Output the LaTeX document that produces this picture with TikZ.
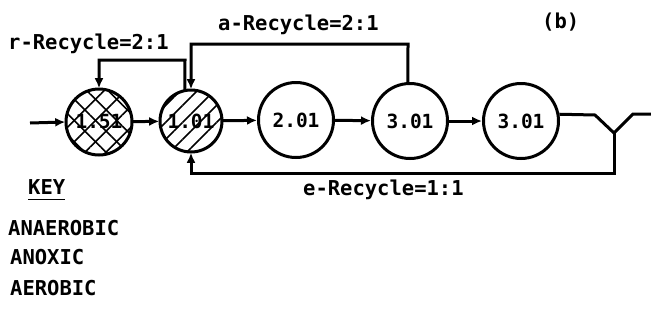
\documentclass[tikz,border=0pt]{standalone}
\usepackage{fontspec}
\setmonofont{DejaVu Sans Mono}
\usetikzlibrary{arrows.meta,patterns.meta}
\begin{document}
\begin{tikzpicture}[x=1pt,y=-1pt,
  lbl/.style={font=\ttfamily\bfseries\fontsize{20.5}{24}\selectfont, inner sep=0pt},
  tank/.style={circle, draw, line width=3pt, inner sep=0pt, font=\ttfamily\bfseries\fontsize{19.5}{22}\selectfont},
  flow/.style={line width=3pt, -{Latex[length=10pt,width=9pt]}},
  pipe/.style={line width=3pt},
  anaer/.style={pattern={Lines[angle=45,distance=15pt,line width=1.6pt]},
               postaction={pattern={Lines[angle=-45,distance=15pt,line width=1.6pt]}}},
  anox/.style={pattern={Lines[angle=45,distance=12pt,line width=1.6pt]}}
]
\useasboundingbox (0,0) rectangle (651,322);

% reactors in series
\node[tank, anaer, minimum size=66pt] (c1) at (99,122) {1.51};
\node[tank, anox,  minimum size=62pt] (c2) at (191,121) {1.01};
\node[tank, minimum size=75pt] (c3) at (296,120) {2.01};
\node[tank, minimum size=75pt] (c4) at (410,121) {3.01};
\node[tank, minimum size=75pt] (c5) at (521,121) {3.01};

% influent and forward flow
\coordinate (in) at (30,123);
\draw[flow] (in) -- (c1.west);
\draw[flow] (c1) -- (c2);
\draw[flow] (c2) -- (c3);
\draw[flow] (c3) -- (c4);
\draw[flow] (c4) -- (c5);

% clarifier and effluent
\coordinate (s1) at (595,115);
\coordinate (sb) at (614,133);
\coordinate (s2) at (633,114);
\coordinate (out) at (651,114);
\coordinate (rb) at (614,173);
\draw[pipe, line join=miter] (c5.10) -- (s1) -- (sb) -- (s2) -- (out);

% e-recycle back to the anoxic tank
\draw[flow] (sb) -- (rb) -- (rb -| c2.south) -- (c2.south);

% r-recycle from anoxic to anaerobic tank
\coordinate (r1) at (185,60);
\draw[flow] (c2.101) -- (r1) -- (r1 -| c1.north) -- (c1.north);

% a-recycle from aerobic to anoxic tank
\coordinate (a1) at (408,44);
\draw[flow] (c4.93) -- (a1) -- (a1 -| c2.north) -- (c2.north);

% labels
\node[lbl, anchor=west] (rl) at (8,44) {r-Recycle=2:1};
\node[lbl, anchor=west] (al) at (218,25) {a-Recycle=2:1};
\node[lbl, anchor=west] (bl) at (542,22) {(b)};
\node[lbl, anchor=west] (el) at (303,190) {e-Recycle=1:1};

% key
\node[lbl, anchor=west] (key) at (28,187) {KEY};
\draw[line width=1.6pt] ([yshift=-5pt]key.south west) -- ([yshift=-5pt]key.south east);
\node[lbl, anchor=west] (k1) at (8,228) {ANAEROBIC};
\node[lbl, anchor=west] (k2) at (10,257) {ANOXIC};
\node[lbl, anchor=west] (k3) at (10,288) {AEROBIC};
\end{tikzpicture}
\end{document}
